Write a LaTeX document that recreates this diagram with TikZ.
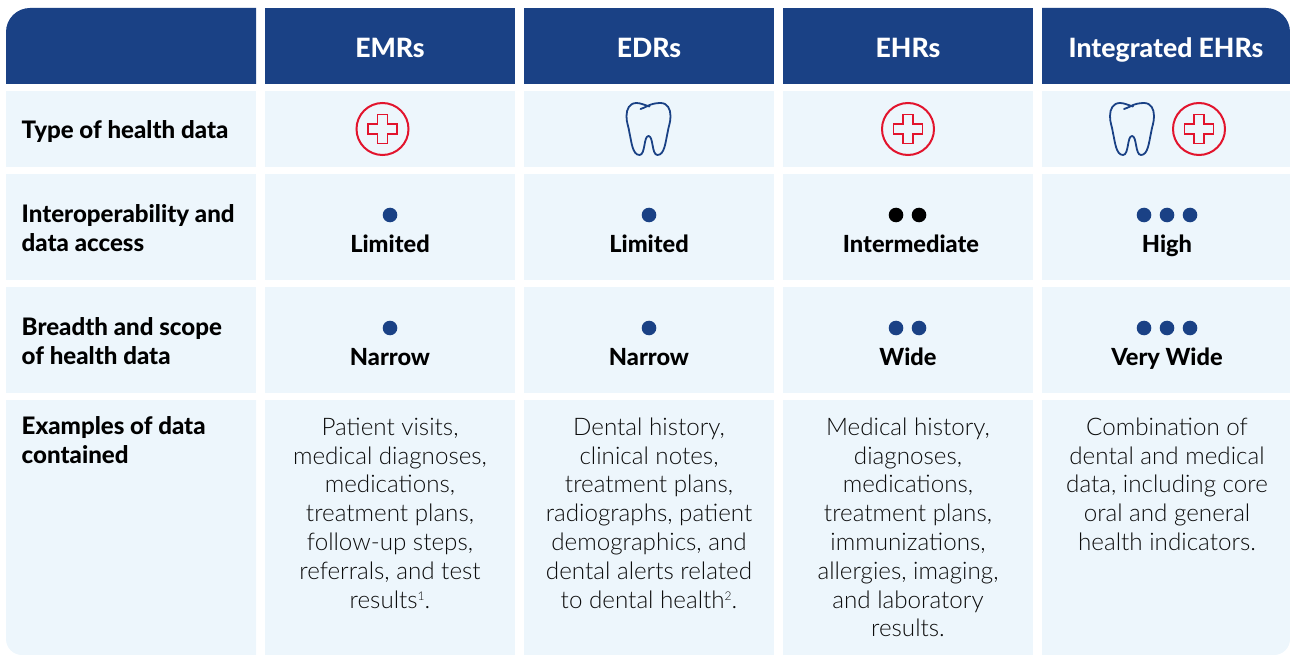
\documentclass[tikz,border=0pt]{standalone}
\usepackage{fontspec}
\setmainfont{Lato}
\newfontfamily\heavyfont{Lato Heavy}
\newfontfamily\lightfont{Lato Light}
\definecolor{navy}{HTML}{1A4185}
\definecolor{pale}{HTML}{EDF6FC}
\definecolor{redicon}{HTML}{E2142D}
\definecolor{bodytext}{HTML}{0C0C0C}
\newcommand{\sizehead}{\fontsize{26.6}{29}\selectfont\heavyfont}
\newcommand{\sizelabel}{\fontsize{24.1}{29}\selectfont\heavyfont}
\newcommand{\sizebold}{\fontsize{23.6}{29}\selectfont\heavyfont}
\newcommand{\sizebody}{\fontsize{24.2}{28.8}\selectfont\lightfont}
\newcommand{\supnum}[1]{\raisebox{8pt}{\fontsize{12}{12}\selectfont #1}}
\tikzset{
  x=1pt,y=-1pt,
  headcell/.style={fill=navy},
  palecell/.style={fill=pale},
  headtext/.style={font=\sizehead,text=white,anchor=base,inner sep=0pt},
  rowtext/.style={font=\sizelabel,text=black,anchor=north west,inner sep=0pt,align=left},
  leveltext/.style={font=\sizebold,text=black,anchor=base,inner sep=0pt},
  bodycell/.style={font=\sizebody,text=bodytext,anchor=north,inner sep=0pt,align=center},
  dotnavy/.style={circle,fill=navy,inner sep=0pt,minimum size=14.6pt},
  dotblack/.style={circle,fill=black,inner sep=0pt,minimum size=14.6pt},
  crossicon/.pic={
    \draw[redicon,line width=2pt] (0,0) circle[radius=26];
    \draw[redicon,line width=1.9pt,line join=miter] (-5,-14.5) -- (5,-14.5) -- (5,-5) -- (14.5,-5) -- (14.5,5) -- (5,5) -- (5,14.5) -- (-5,14.5) -- (-5,5) -- (-14.5,5) -- (-14.5,-5) -- (-5,-5) -- cycle;
  },
  toothicon/.pic={
    \draw[navy,line width=1.8pt,line cap=round,line join=round]
      (-8,-20)
      .. controls (-3,-21) and (1,-26) .. (12,-26)
      .. controls (19,-26) and (22,-20) .. (22,-13)
      .. controls (22,-6) and (20,-3) .. (19,4)
      .. controls (17,13) and (16,26) .. (9,26)
      .. controls (3,26) and (5,7) .. (0,7)
      .. controls (-5,7) and (-3,26) .. (-9,26)
      .. controls (-16,26) and (-17,13) .. (-19,4)
      .. controls (-20,-3) and (-22,-6) .. (-22,-13)
      .. controls (-22,-20) and (-19,-26) .. (-12,-26)
      .. controls (-8,-26) and (-4,-24) .. (1,-22.5);
  }
}
\begin{document}
\begin{tikzpicture}
\useasboundingbox (0,0) rectangle (1290,655);
% header row
\fill[headcell,rounded corners=24pt] (6,84) [sharp corners] -- (6,60) [rounded corners=24pt] -- (6,8) [sharp corners] -- (256,8) -- (256,84) -- cycle;
\fill[headcell] (265,8) rectangle (515,84);
\fill[headcell] (524,8) rectangle (774,84);
\fill[headcell] (783,8) rectangle (1033,84);
\fill[headcell] (1042,8) -- (1200,8) [rounded corners=24pt] -- (1290,8) [sharp corners] -- (1290,84) -- (1042,84) -- cycle;
% body rows
\foreach \ya/\yb in {91/167,174/280,287/393} {
  \foreach \xa/\xb in {6/256,265/515,524/774,783/1033,1042/1290} {
    \fill[palecell] (\xa,\ya) rectangle (\xb,\yb);
  }
}
\fill[palecell] (6,400) -- (256,400) -- (256,655) -- (100,655) [rounded corners=16pt] -- (6,655) [sharp corners] -- (6,500) -- cycle;
\fill[palecell] (265,400) rectangle (515,655);
\fill[palecell] (524,400) rectangle (774,655);
\fill[palecell] (783,400) rectangle (1033,655);
\fill[palecell] (1042,400) -- (1290,400) -- (1290,500) [rounded corners=16pt] -- (1290,655) [sharp corners] -- (1200,655) -- (1042,655) -- cycle;
% headers
\node[headtext] (hemr) at (390,58) {EMRs};
\node[headtext] (hedr) at (649,58) {EDRs};
\node[headtext] (hehr) at (908,58) {EHRs};
\node[headtext] (hint) at (1166,58) {Integrated EHRs};
% row labels
\node[rowtext] (ltype) at (21.5,118.2) {\strut Type of health data};
\node[rowtext] (linter) at (21.5,202.2) {\strut Interoperability and\\data access};
\node[rowtext] (lbreadth) at (21.5,315.2) {\strut Breadth and scope\\of health data};
\node[rowtext] (lexam) at (21.5,414.2) {\strut Examples of data\\contained};
% icons
\pic at (382.5,129) {crossicon};
\pic at (648.5,129) {toothicon};
\pic at (908,129) {crossicon};
\pic at (1132,129) {toothicon};
\pic at (1199,129) {crossicon};
% interoperability
\node[dotnavy] (ia) at (390,215) {};
\node[dotnavy] (ib) at (649,215) {};
\node[dotblack] (ic) at (896,215) {};
\node[dotblack] (id) at (919,215) {};
\node[dotnavy] (ie) at (1144,215) {};
\node[dotnavy] (if) at (1167,215) {};
\node[dotnavy] (ig) at (1190,215) {};
\node[leveltext] (ilemr) at (390,252) {Limited};
\node[leveltext] (iledr) at (649,252) {Limited};
\node[leveltext] (ilehr) at (911,252) {Intermediate};
\node[leveltext] (ilint) at (1167,252) {High};
% breadth
\node[dotnavy] (ba) at (390,328) {};
\node[dotnavy] (bb) at (649,328) {};
\node[dotnavy] (bc) at (896,328) {};
\node[dotnavy] (bd) at (919,328) {};
\node[dotnavy] (be) at (1144,328) {};
\node[dotnavy] (bf) at (1167,328) {};
\node[dotnavy] (bg) at (1190,328) {};
\node[leveltext] (blemr) at (390,365) {Narrow};
\node[leveltext] (bledr) at (649,365) {Narrow};
\node[leveltext] (blehr) at (908,365) {Wide};
\node[leveltext] (blint) at (1167,365) {Very Wide};
% examples
\node[bodycell] (xemr) at (390,415) {\strut Patient visits,\\medical diagnoses,\\medications,\\treatment plans,\\follow-up steps,\\referrals, and test\\results\supnum{1}.};
\node[bodycell] (xedr) at (649,415) {\strut Dental history,\\clinical notes,\\treatment plans,\\radiographs, patient\\demographics, and\\dental alerts related\\to dental health\supnum{2}.};
\node[bodycell] (xehr) at (908,415) {\strut Medical history,\\diagnoses,\\medications,\\treatment plans,\\immunizations,\\allergies, imaging,\\and laboratory\\results.};
\node[bodycell] (xint) at (1167,415) {\strut Combination of\\dental and medical\\data, including core\\oral and general\\health indicators.};
\end{tikzpicture}
\end{document}
